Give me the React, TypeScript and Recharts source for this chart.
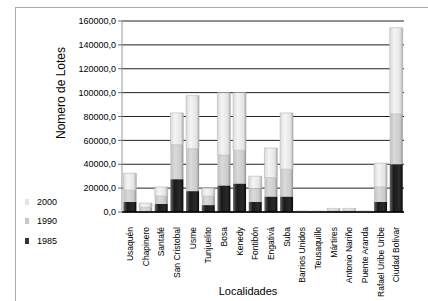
import React from "react";
import { BarChart, Bar, XAxis, YAxis, CartesianGrid } from "recharts";

const localidades = [
  "Usaquén", "Chapinero", "Santafé", "San Cristobal", "Usme", "Tunjuelito",
  "Bosa", "Kenedy", "Fontibón", "Engativá", "Suba", "Barrios Unidos",
  "Teusaquillo", "Mártires", "Antonio Nariño", "Puente Aranda",
  "Rafael Uribe Uribe", "Ciudad Bolivar",
];
const lotes1985 = [8600, 500, 6700, 27500, 17500, 5800, 22300, 23900, 8600, 13000, 13000, 200, 200, 500, 500, 200, 8600, 40000];
const lotes1990 = [9700, 3500, 6600, 28900, 35500, 7500, 25400, 27800, 11100, 15900, 22800, 300, 300, 1000, 1000, 300, 12400, 42200];
const lotes2000 = [14200, 3500, 7700, 26600, 44500, 6700, 52300, 48300, 10300, 24700, 47200, 300, 300, 1500, 1500, 300, 20000, 72200];
const yTicks = [0, 20000, 40000, 60000, 80000, 100000, 120000, 140000, 160000];

const data = localidades.map((name, i) => ({
  name,
  y1985: lotes1985[i],
  y1990: lotes1990[i],
  y2000: lotes2000[i],
}));

const FONT = "'Liberation Sans', Arial, sans-serif";

const fmt = (v: number) => v.toFixed(1).replace(".", ",");

const XTick = (props: any) => {
  const { x, y, payload } = props;
  return (
    <text
      x={x}
      y={y + 7}
      transform={`rotate(-90 ${x} ${y + 7})`}
      textAnchor="end"
      dominantBaseline="central"
      fontSize={8.5}
      fontFamily={FONT}
      fill="#000"
    >
      {payload.value}
    </text>
  );
};

export default function App() {
  return (
    <div style={{ position: "absolute", left: 0, top: 0, width: 428, height: 301, background: "#fff", overflow: "hidden" }}>
      <div style={{ position: "absolute", left: 15, top: 7, width: 420, height: 300, borderLeft: "1px solid #aaa", borderTop: "1px solid #aaa" }} />
      <BarChart
        width={428}
        height={301}
        data={data}
        margin={{ top: 21, right: 24, left: 0, bottom: 0 }}
        barCategoryGap="9%"
        style={{ position: "absolute", left: 0, top: 0 }}
      >
        <defs>
          <linearGradient id="g85" x1="0" y1="0" x2="1" y2="0">
            <stop offset="0%" stopColor="#666" />
            <stop offset="30%" stopColor="#1a1a1a" />
            <stop offset="75%" stopColor="#2a2a2a" />
            <stop offset="100%" stopColor="#0a0a0a" />
          </linearGradient>
          <linearGradient id="g90" x1="0" y1="0" x2="1" y2="0">
            <stop offset="0%" stopColor="#c0c0c0" />
            <stop offset="35%" stopColor="#dadada" />
            <stop offset="80%" stopColor="#cbcbcb" />
            <stop offset="100%" stopColor="#8e8e8e" />
          </linearGradient>
          <linearGradient id="g00" x1="0" y1="0" x2="1" y2="0">
            <stop offset="0%" stopColor="#dadada" />
            <stop offset="35%" stopColor="#f5f5f5" />
            <stop offset="80%" stopColor="#e4e4e4" />
            <stop offset="100%" stopColor="#aaaaaa" />
          </linearGradient>
        </defs>
        <CartesianGrid vertical={false} stroke="#222" strokeWidth={1} />
        <XAxis
          dataKey="name"
          interval={0}
          height={89}
          tick={<XTick />}
          tickLine={false}
          axisLine={{ stroke: "#000", strokeWidth: 1.5 }}
        />
        <YAxis
          width={122}
          domain={[0, 160000]}
          ticks={yTicks}
          tickFormatter={fmt}
          tick={{ fontSize: 9, fontFamily: FONT, fill: "#000" }}
          tickSize={4}
          tickLine={{ stroke: "#666" }}
          axisLine={{ stroke: "#999" }}
        />
        <Bar dataKey="y1985" stackId="a" fill="url(#g85)" isAnimationActive={false} />
        <Bar dataKey="y1990" stackId="a" fill="url(#g90)" isAnimationActive={false} />
        <Bar dataKey="y2000" stackId="a" fill="url(#g00)" stroke="#aaa" strokeWidth={0.5} isAnimationActive={false} />
      </BarChart>
      <div
        style={{
          position: "absolute", left: 61, top: 93, transform: "translate(-50%, -50%) rotate(-90deg)",
          fontFamily: FONT, fontSize: 12, color: "#000", whiteSpace: "nowrap",
        }}
      >
        Nomero de Lotes
      </div>
      <div
        style={{
          position: "absolute", left: 248, top: 291, transform: "translate(-50%, -50%)",
          fontFamily: FONT, fontSize: 11, color: "#000", whiteSpace: "nowrap",
        }}
      >
        Localidades
      </div>
      {[
        { label: "2000", y: 202, c: "#e4e4e4" },
        { label: "1990", y: 221, c: "#c6c6c6" },
        { label: "1985", y: 241, c: "#333" },
      ].map((l) => (
        <div key={l.label}>
          <div style={{ position: "absolute", left: 25, top: l.y - 3, width: 4, height: 6, background: l.c }} />
          <div
            style={{
              position: "absolute", left: 37, top: l.y, transform: "translateY(-50%)",
              fontFamily: FONT, fontSize: 9, color: "#000", whiteSpace: "nowrap",
            }}
          >
            {l.label}
          </div>
        </div>
      ))}
    </div>
  );
}
